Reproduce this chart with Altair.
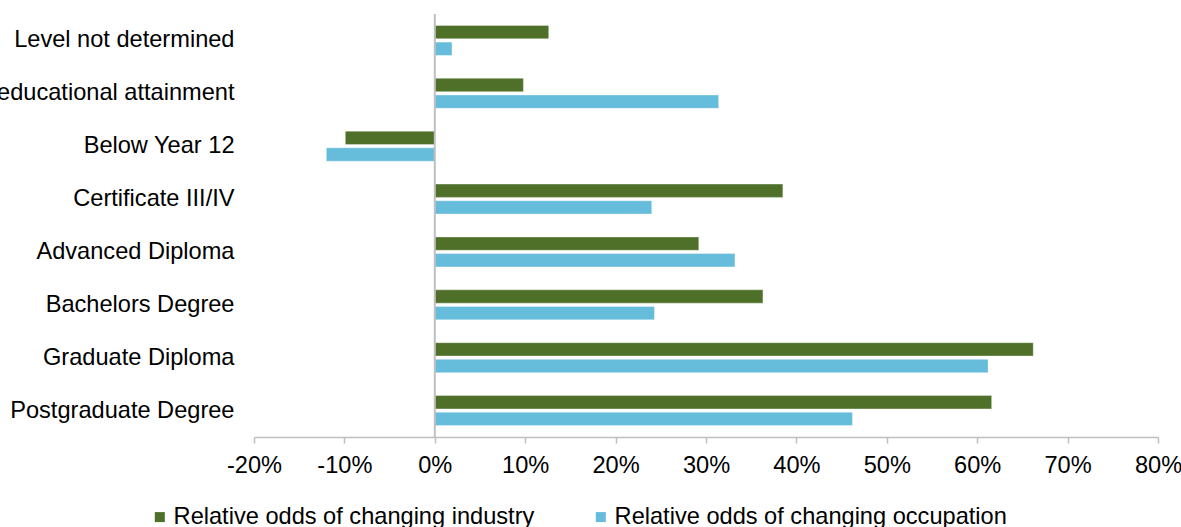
import altair as alt
import pandas as pd

categories = [
    "Level not determined",
    "Unknown educational attainment",
    "Below Year 12",
    "Certificate III/IV",
    "Advanced Diploma",
    "Bachelors Degree",
    "Graduate Diploma",
    "Postgraduate Degree",
]
series_names = [
    "Relative odds of changing industry",
    "Relative odds of changing occupation",
]
industry = [0.126, 0.098, -0.099, 0.385, 0.292, 0.363, 0.662, 0.616]
occupation = [0.019, 0.314, -0.120, 0.240, 0.332, 0.243, 0.612, 0.462]
x_ticks = [-0.2, -0.1, 0.0, 0.1, 0.2, 0.3, 0.4, 0.5, 0.6, 0.7, 0.8]
colors = ["#4E7028", "#66BCDB"]

rows = []
for c, a, b in zip(categories, industry, occupation):
    rows.append({"category": c, "series": series_names[0], "value": a})
    rows.append({"category": c, "series": series_names[1], "value": b})
df = pd.DataFrame(rows)

FONT = "Liberation Sans"
FS = 23.6

bars = alt.Chart(df).mark_bar(strokeWidth=1, strokeOpacity=0.35, stroke="white").encode(
    y=alt.Y(
        "category:N",
        sort=categories,
        scale=alt.Scale(paddingInner=0.433, paddingOuter=0.2165),
        axis=alt.Axis(
            title=None, domain=False, ticks=False, labelPadding=20,
            labelFontSize=FS, labelFont=FONT, labelColor="#000000",
            labelLimit=0,
        ),
    ),
    yOffset=alt.YOffset(
        "series:N", sort=series_names,
        scale=alt.Scale(paddingInner=0.2, paddingOuter=0),
    ),
    x=alt.X(
        "value:Q",
        scale=alt.Scale(domain=[-0.2, 0.8], nice=False, zero=False),
        axis=alt.Axis(
            title=None, values=x_ticks, format=".0%",
            labelExpr="replace(datum.label, '\u2212', '-')",
            grid=False, domainColor="#BFBFBF", domainWidth=1.5,
            tickColor="#BFBFBF", tickWidth=1.5, tickSize=6, labelPadding=10,
            labelFontSize=FS, labelFont=FONT, labelColor="#000000",
            labelFlush=False,
        ),
    ),
    color=alt.Color(
        "series:N",
        sort=series_names,
        scale=alt.Scale(domain=series_names, range=colors),
        legend=alt.Legend(
            title=None, orient="none", direction="horizontal",
            legendX=-106, legendY=491,
            symbolType="square", symbolSize=100, symbolStrokeWidth=0,
            labelFontSize=FS, labelFont=FONT, labelColor="#000000",
            labelOffset=2, columnPadding=54, labelLimit=0,
        ),
    ),
)

zero_line = alt.Chart(pd.DataFrame({"v": [0]})).mark_rule(
    color="#BFBFBF", strokeWidth=2
).encode(x=alt.X("v:Q"))

chart = alt.layer(bars, zero_line).properties(
    width=904,
    height=423,
    autosize=alt.AutoSizeParams(type="none"),
    padding={"left": 254, "top": 14, "right": 23, "bottom": 90},
).configure_view(stroke=None)

chart.save("out.html", embed_options={"renderer": "svg", "actions": False})
